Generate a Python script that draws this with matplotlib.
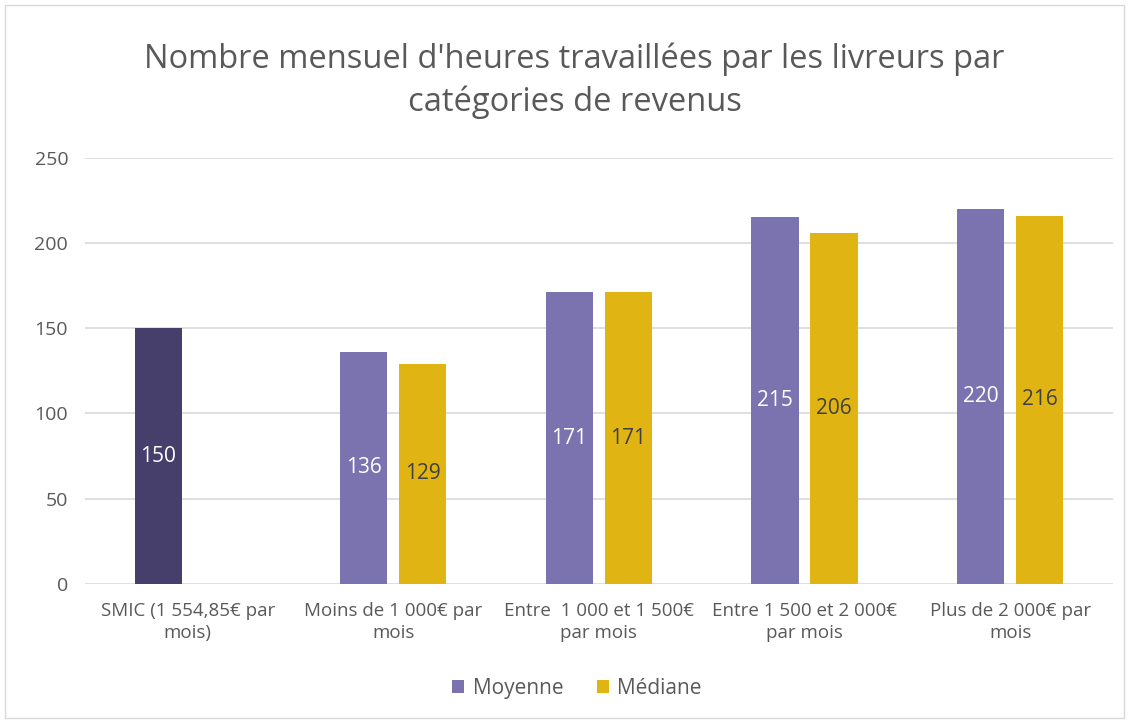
import numpy as np
import matplotlib.pyplot as plt
from matplotlib.patches import Rectangle

categories = ["SMIC (1 554,85€ par\nmois)", "Moins de 1 000€ par\nmois",
              "Entre  1 000 et 1 500€\npar mois", "Entre 1 500 et 2 000€\npar mois",
              "Plus de 2 000€ par\nmois"]
moyenne = [150, 136, 171, 215, 220]
mediane = [None, 129, 171, 206, 216]
yticks = [0, 50, 100, 150, 200, 250]

c_moy = "#7B73AF"
c_smic = "#463E6B"
c_med = "#E0B413"
grey = "#595959"

plt.rcParams['font.family'] = ['Open Sans', 'DejaVu Sans']

fig = plt.figure(figsize=(11.31, 7.2), dpi=100)
ax = fig.add_axes([0.075, 0.189, 0.909, 0.592])

x = np.arange(len(categories))
w = 0.229
off = 0.1435

for i in range(len(categories)):
    col = c_smic if i == 0 else c_moy
    b = ax.bar(x[i] - off, moyenne[i], w, color=col, label="Moyenne" if i == 1 else None)
    ax.bar_label(b, labels=[str(moyenne[i])], label_type="center", color="white", fontsize=15)
    if mediane[i] is not None:
        b = ax.bar(x[i] + off, mediane[i], w, color=c_med, label="Médiane" if i == 1 else None)
        ax.bar_label(b, labels=[str(mediane[i])], label_type="center", color="#404040", fontsize=15)

ax.set_xlim(-0.5, len(categories) - 0.5)
ax.set_ylim(0, 250)
ax.set_yticks(yticks)
ax.set_xticks(x)
ax.set_xticklabels(categories, fontsize=13.5, color=grey, linespacing=1.3)
ax.tick_params(axis="y", labelsize=14, labelcolor=grey, length=0, pad=12)
ax.tick_params(axis="x", length=0, pad=13)
ax.grid(axis="y", color="#d9d9d9", linewidth=1.2)
ax.set_axisbelow(True)
for s in ax.spines.values():
    s.set_visible(False)

fig.text(0.508, 0.888, "Nombre mensuel d'heures travaillées par les livreurs par\ncatégories de revenus",
         ha="center", va="center", fontsize=23.5, color=grey, linespacing=1.35)

leg = ax.legend(loc="center", bbox_to_anchor=(0.51, 0.044), bbox_transform=fig.transFigure,
                ncol=2, frameon=False, fontsize=15, handlelength=0.6, handleheight=0.6,
                columnspacing=1.6, handletextpad=0.4, labelcolor=grey)

fig.patches.append(Rectangle((0.004, 0.003), 0.99, 0.99, transform=fig.transFigure,
                             fill=False, edgecolor="#d9d9d9", linewidth=1))

fig.savefig("out.png", dpi=100)
